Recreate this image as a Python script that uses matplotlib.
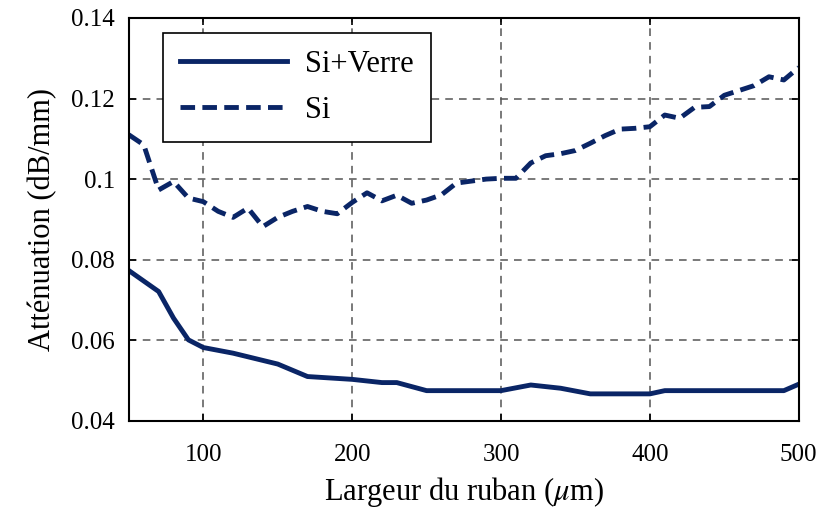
import matplotlib.pyplot as plt

# Attenuation vs ribbon width (dB/mm)
width_glass = [50, 70, 80, 90, 100, 120, 150, 170, 200, 220, 230, 250, 300,
               320, 340, 360, 400, 410, 490, 500]
att_glass = [0.0773, 0.0721, 0.0655, 0.0601, 0.0582, 0.0568, 0.0541, 0.0510,
             0.0503, 0.0495, 0.0495, 0.0475, 0.0475, 0.0489, 0.0481, 0.0467,
             0.0467, 0.0475, 0.0475, 0.0491]

width_si = [50, 60, 70, 80, 90, 100, 110, 120, 130, 140, 150, 160, 170, 180,
            190, 200, 210, 220, 230, 240, 250, 260, 270, 280, 290, 300, 310,
            320, 330, 340, 350, 360, 370, 380, 390, 400, 410, 420, 430, 440,
            450, 460, 470, 480, 490, 500]
att_si = [0.1110, 0.1085, 0.0973, 0.0994, 0.0953, 0.0944, 0.0920, 0.0905,
          0.0928, 0.0882, 0.0905, 0.0920, 0.0932, 0.0920, 0.0914, 0.0942,
          0.0966, 0.0946, 0.0960, 0.0940, 0.0948, 0.0961, 0.0990, 0.0995,
          0.1000, 0.1002, 0.1002, 0.1040, 0.1058, 0.1063, 0.1071, 0.1089,
          0.1108, 0.1124, 0.1126, 0.1130, 0.1159, 0.1151, 0.1178, 0.1180,
          0.1208, 0.1220, 0.1232, 0.1254, 0.1246, 0.1277]

x_ticks = [100, 200, 300, 400, 500]
y_ticks = [0.04, 0.06, 0.08, 0.10, 0.12, 0.14]
y_labels = ["0.04", "0.06", "0.08", "0.1", "0.12", "0.14"]

navy = "#0a2566"
plt.rcParams["font.family"] = ["Liberation Serif", "DejaVu Serif"]
plt.rcParams["mathtext.fontset"] = "stix"

fig = plt.figure(figsize=(8.26, 5.12), dpi=100)
ax = fig.add_axes([0.156, 0.178, 0.811, 0.787])

ax.plot(width_glass, att_glass, color=navy, lw=3.5, label="Si+Verre")
ax.plot(width_si, att_si, color=navy, lw=3.5, ls=(0, (3.0, 1.5)), label="Si")

ax.set_xlim(50, 500)
ax.set_ylim(0.04, 0.14)
ax.set_xticks(x_ticks)
ax.set_yticks(y_ticks)
ax.set_yticklabels(y_labels)
ax.tick_params(direction="in", top=True, right=True, labelsize=18, length=5,
               width=1.2)
ax.tick_params(axis="x", pad=17)
ax.tick_params(axis="y", pad=10)
ax.grid(True, color="#555555", ls=(0, (5, 4)), lw=1.1)
for s in ax.spines.values():
    s.set_linewidth(1.5)

ax.set_xlabel("Largeur du ruban ($\\mu$m)", fontsize=22, labelpad=6)
ax.set_ylabel("Atténuation (dB/mm)", fontsize=22, labelpad=10)

leg = ax.legend(loc="upper left", bbox_to_anchor=(0.051, 0.962), fontsize=22,
                handlelength=3.5, fancybox=False, framealpha=1,
                edgecolor="black", borderpad=0.55, labelspacing=0.55,
                handletextpad=0.6, borderaxespad=0)
leg.get_frame().set_linewidth(1.2)

fig.savefig("out.png", dpi=100)
